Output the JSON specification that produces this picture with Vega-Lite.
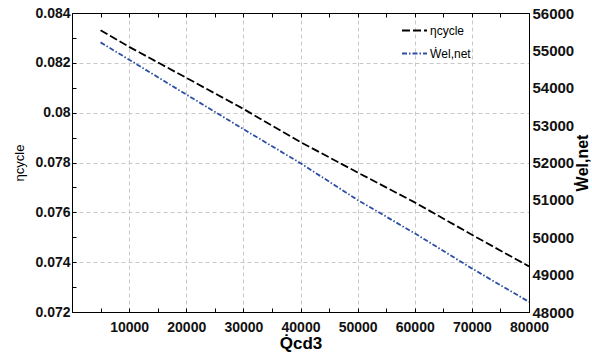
{
  "$schema": "https://vega.github.io/schema/vega-lite/v6.json",
  "width": 457,
  "height": 299,
  "autosize": "none",
  "padding": {"left": 72, "top": 13, "right": 63, "bottom": 48},
  "background": "white",
  "config": {
    "font": "Liberation Sans",
    "view": {"stroke": "black", "strokeWidth": 1},
    "axis": {"labelFont": "Liberation Sans", "labelFontSize": 14, "labelFontWeight": "bold", "labelColor": "#111111", "titleFont": "Liberation Sans", "titleColor": "black", "domainColor": "black", "tickColor": "black", "gridDash": [4, 3], "gridWidth": 1, "labelFlush": false, "labelOverlap": false}
  },
  "data": {"values": [
    {"x": 5000, "eta": 0.08331, "W": 55214},
    {"x": 10000, "eta": 0.08264, "W": 54751},
    {"x": 20000, "eta": 0.08140, "W": 53820},
    {"x": 30000, "eta": 0.08015, "W": 52893},
    {"x": 40000, "eta": 0.07882, "W": 51981},
    {"x": 50000, "eta": 0.07760, "W": 50997},
    {"x": 60000, "eta": 0.07640, "W": 50105},
    {"x": 70000, "eta": 0.07510, "W": 49166},
    {"x": 80000, "eta": 0.07383, "W": 48271}
  ]},
  "layer": [
    {
      "mark": {"type": "line", "strokeWidth": 1.8},
      "encoding": {
        "x": {"field": "x", "type": "quantitative", "scale": {"domain": [0, 80000], "nice": false},
          "axis": {"orient": "bottom", "values": [5000,10000,15000,20000,25000,30000,35000,40000,45000,50000,55000,60000,65000,70000,75000,80000],
            "format": "d", "labelExpr": "datum.value % 10000 == 0 ? datum.label : ''",
            "tickSize": -4, "labelPadding": 12,
            "gridColor": {"condition": {"test": "datum.value % 10000 == 0", "value": "#c8c8c8"}, "value": "transparent"},
            "title": "Q̇cd3", "titleFontSize": 17, "titleFontWeight": "bold", "titlePadding": 1}},
        "y": {"field": "eta", "type": "quantitative", "scale": {"domain": [0.072, 0.084], "nice": false, "zero": false},
          "axis": {"orient": "left", "values": [0.072,0.073,0.074,0.075,0.076,0.077,0.078,0.079,0.08,0.081,0.082,0.083,0.084],
            "format": ".3~f", "labelExpr": "round(datum.value * 1000) % 2 == 0 ? datum.label : ''",
            "tickSize": -4, "labelPadding": 6,
            "gridColor": {"condition": {"test": "round(datum.value * 1000) % 2 == 0", "value": "#c8c8c8"}, "value": "transparent"},
            "title": "ηcycle", "titleFontSize": 13, "titleFontWeight": "normal", "titlePadding": 8}},
        "color": {"datum": "ηcycle", "scale": {"domain": ["ηcycle", "Ẇel,net"], "range": ["#000000", "#2c4fa3"]},
          "legend": {"title": null, "orient": "none", "legendX": 329, "legendY": 4, "symbolType": "stroke", "symbolSize": 625, "symbolStrokeWidth": 1.8, "labelFontSize": 12, "labelFont": "Liberation Sans", "labelOffset": 2, "rowPadding": 3}},
        "strokeDash": {"datum": "ηcycle", "scale": {"domain": ["ηcycle", "Ẇel,net"], "range": [[8, 3], [5, 2, 1.5, 2]]},
          "legend": {"title": null, "orient": "none", "legendX": 329, "legendY": 4, "symbolType": "stroke", "symbolSize": 625, "symbolStrokeWidth": 1.8, "labelFontSize": 12, "labelFont": "Liberation Sans", "labelOffset": 2, "rowPadding": 3}}
      }
    },
    {
      "mark": {"type": "line", "strokeWidth": 1.8},
      "encoding": {
        "x": {"field": "x", "type": "quantitative", "scale": {"domain": [0, 80000], "nice": false},
          "axis": {"orient": "top", "values": [5000,10000,15000,20000,25000,30000,35000,40000,45000,50000,55000,60000,65000,70000,75000,80000],
            "labels": false, "grid": false, "tickSize": -4, "title": null}},
        "y": {"field": "W", "type": "quantitative", "scale": {"domain": [48000, 56000], "nice": false, "zero": false},
          "axis": {"orient": "right", "values": [48000,49000,50000,51000,52000,53000,54000,55000,56000], "format": "d",
            "ticks": false, "labelPadding": 3, "labelFontSize": 15, "grid": false,
            "title": "Ẇel,net", "titleFontSize": 16, "titleFontWeight": "bold", "titleAngle": 270, "titleBaseline": "top", "titlePadding": 1}},
        "color": {"datum": "Ẇel,net"},
        "strokeDash": {"datum": "Ẇel,net"}
      }
    }
  ],
  "resolve": {"scale": {"y": "independent"}, "axis": {"x": "independent"}}
}
